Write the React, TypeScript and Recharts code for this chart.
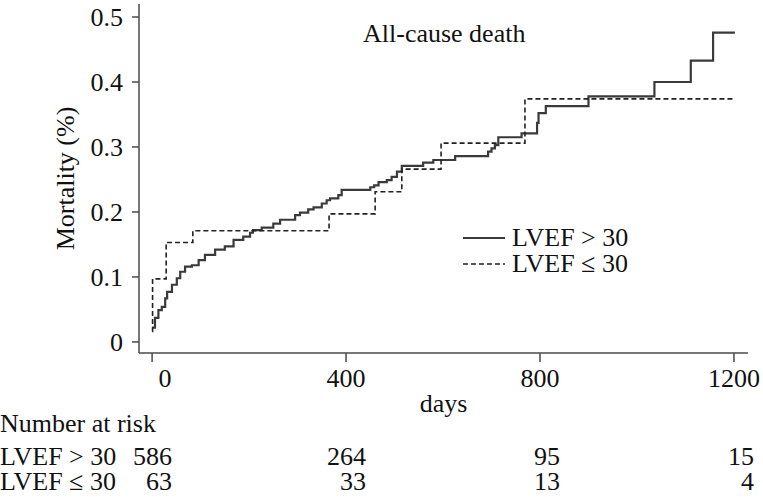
import { LineChart, Line, XAxis, YAxis } from "recharts";

// LVEF > 30 (solid) step points: day, cumulative mortality
const highDays = [0, 6, 13, 20, 27, 31, 41, 51, 58, 68, 82, 96, 109, 130, 150, 168, 188, 202, 208, 226, 250, 264, 295, 305, 322, 333, 350, 360, 367, 384, 391, 450, 458, 467, 484, 494, 505, 515, 559, 580, 625, 693, 700, 707, 714, 762, 794, 797, 812, 900, 1036, 1111, 1157, 1202];
const highMort = [0.022, 0.037, 0.049, 0.054, 0.067, 0.077, 0.088, 0.098, 0.108, 0.116, 0.118, 0.126, 0.134, 0.142, 0.147, 0.157, 0.162, 0.168, 0.172, 0.176, 0.182, 0.188, 0.195, 0.199, 0.204, 0.207, 0.213, 0.218, 0.221, 0.226, 0.234, 0.238, 0.241, 0.246, 0.249, 0.254, 0.262, 0.271, 0.276, 0.28, 0.286, 0.293, 0.298, 0.303, 0.315, 0.321, 0.337, 0.352, 0.363, 0.378, 0.4, 0.433, 0.476, 0.476];

// LVEF <= 30 (dashed)
const lowDays = [0, 1, 29, 84, 365, 460, 515, 596, 769, 1202];
const lowMort = [0.016, 0.097, 0.153, 0.171, 0.197, 0.231, 0.266, 0.306, 0.374, 0.374];

// number at risk table
const riskTimes = [0, 400, 800, 1200];
const riskHigh = [586, 264, 95, 15];
const riskLow = [63, 33, 13, 4];

const yTicks = [0, 0.1, 0.2, 0.3, 0.4, 0.5];

const series = [
    { name: "LVEF > 30", color: "#3a3a3a", width: 2.2, dash: undefined as string | undefined },
    { name: "LVEF ≤ 30", color: "#222", width: 1.6, dash: "5 3" },
];

const highData = highDays.map((d, i) => ({ day: d, value: highMort[i] }));
const lowData = lowDays.map((d, i) => ({ day: d, value: lowMort[i] }));

const FONT = '"Liberation Serif", "Times New Roman", serif';
const INK = "#111";
const AXIS = "#4a4a4a";

const XTick = (props: any) => {
    const { x, y, payload } = props;
    const i = riskTimes.indexOf(payload.value);
    const dx = payload.value === 0 ? 13 : 0; // "0" sits a bit right of its tick
    const t = { fontFamily: FONT, fontSize: 26, fill: INK };
    return (
        <g>
            <text x={x + dx} y={y + 20} textAnchor="middle" {...t}>{payload.value}</text>
            <text x={x + 20} y={y + 98} textAnchor="end" {...t}>{riskHigh[i]}</text>
            <text x={x + 20} y={y + 123} textAnchor="end" {...t}>{riskLow[i]}</text>
            {i === 0 && (
                <>
                    <text x={0} y={y + 65} {...t}>Number at risk</text>
                    <text x={0} y={y + 98} {...t}>LVEF &gt; 30</text>
                    <text x={0} y={y + 123} {...t}>LVEF ≤ 30</text>
                </>
            )}
        </g>
    );
};

const App = () => (
    <div style={{ position: "absolute", left: 0, top: 0, width: 763, height: 497 }}>
        <LineChart width={763} height={497} margin={{ top: 4, right: 15, left: 0, bottom: 0 }}>
            <XAxis
                dataKey="day"
                type="number"
                domain={[-27, 1229]}
                ticks={riskTimes}
                allowDuplicatedCategory={false}
                height={144}
                stroke={AXIS}
                strokeWidth={1.5}
                tickSize={9}
                tickMargin={5}
                tick={<XTick />}
                label={(p: any) => (
                    <text x={p.viewBox.x + p.viewBox.width / 2} y={p.viewBox.y + 59} textAnchor="middle" fontFamily={FONT} fontSize={26} fill={INK}>
                        days
                    </text>
                )}
            />
            <YAxis
                type="number"
                domain={[-0.017, 0.52]}
                ticks={yTicks}
                width={139}
                stroke={AXIS}
                strokeWidth={1.5}
                tickSize={7}
                tickMargin={9}
                tick={{ fontFamily: FONT, fontSize: 26, fill: INK }}
                label={(p: any) => {
                    const cy = p.viewBox.y + p.viewBox.height / 2;
                    return (
                        <text x={74} y={cy} transform={`rotate(-90, 74, ${cy})`} textAnchor="middle" fontFamily={FONT} fontSize={26} fill={INK}>
                            Mortality (%)
                        </text>
                    );
                }}
            />
            <Line
                data={highData}
                dataKey="value"
                name={series[0].name}
                type="stepAfter"
                stroke={series[0].color}
                strokeWidth={series[0].width}
                dot={false}
                isAnimationActive={false}
            />
            <Line
                data={lowData}
                dataKey="value"
                name={series[1].name}
                type="stepAfter"
                stroke={series[1].color}
                strokeWidth={series[1].width}
                strokeDasharray={series[1].dash}
                dot={false}
                isAnimationActive={false}
            />
        </LineChart>
        <div style={{ position: "absolute", left: 363, top: 17, fontFamily: FONT, fontSize: 26, color: INK, whiteSpace: "nowrap", lineHeight: "34px" }}>
            All-cause death
        </div>
        <div style={{ position: "absolute", left: 460, top: 225, fontFamily: FONT, fontSize: 26, color: INK }}>
            {series.map((r) => (
                <div key={r.name} style={{ display: "flex", alignItems: "center", height: 26, lineHeight: "26px", whiteSpace: "nowrap" }}>
                    <svg width={52} height={26}>
                        <line x1={3} x2={45} y1={13} y2={13} stroke={r.color} strokeWidth={r.width} strokeDasharray={r.dash} />
                    </svg>
                    <span>{r.name}</span>
                </div>
            ))}
        </div>
    </div>
);

export default App;
